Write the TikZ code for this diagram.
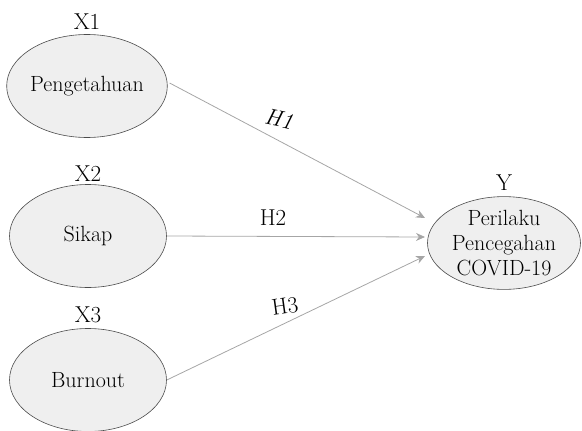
\documentclass[tikz,border=0pt]{standalone}
\usetikzlibrary{positioning,shapes.geometric,arrows.meta}
\tikzset{>=Stealth}
\definecolor{fillgray}{HTML}{EFEFEF}
\definecolor{linegray}{HTML}{A6A6A6}
\tikzset{
  latent/.style={draw=black!70, fill=fillgray, ellipse, inner sep=0pt,
    line width=0.6pt, minimum width=157pt, minimum height=103pt,
    font=\fontsize{22}{25}\selectfont},
  varname/.style={inner sep=1pt, font=\fontsize{23}{25}\selectfont},
  path/.style={draw=linegray, line width=0.8pt,
    -{Stealth[length=9pt,width=8pt]}},
  hyp/.style={inner sep=0pt, font=\fontsize{23}{25}\selectfont}
}

\begin{document}
\begin{tikzpicture}[x=1pt, y=-1pt]
  \useasboundingbox (0,0) rectangle (582,431);

  \node [latent] (pk) at (87,86) {Pengetahuan};
  \node [latent] (sk) at (88,236) {Sikap};
  \node [latent] (bo) at (88,380) {Burnout};
  \node [latent,
    minimum width=153pt,
    minimum height=87pt,
    align=center
  ] (py) at (504,243) {Perilaku\\Pencegahan\\COVID-19};

  \node [varname, above=3pt of pk] (x1) {X1};
  \node [varname, above=2pt of sk] (x2) {X2};
  \node [varname, above=4pt of bo] (x3) {X3};
  \node [varname, above=5pt of py] (y) {Y};

  \coordinate (in1) at (425,218);
  \coordinate (in2) at (425,237);
  \coordinate (in3) at (425,256);

  \draw[path] (pk.east) ++(2,-3) -- (in1);
  \draw[path] (sk.east) -- (in2);
  \draw[path] (bo.east) -- (in3);

  \node [hyp, rotate=-12] (h1) at (279,119) {\itshape H1};
  \node [hyp] (h2) at (273,218) {H2};
  \node [hyp, rotate=8] (h3) at (285,306) {H3};
\end{tikzpicture}
\end{document}
